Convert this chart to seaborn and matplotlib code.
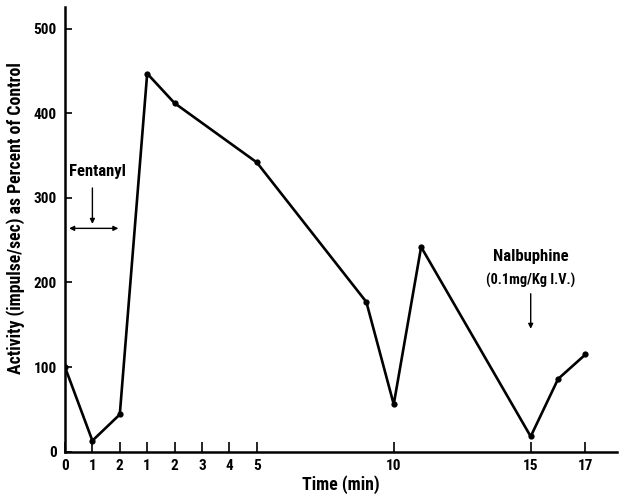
import matplotlib
matplotlib.use("Agg")
import matplotlib.pyplot as plt
import seaborn as sns
import pandas as pd
from matplotlib import font_manager

# ---- data ----
time_pos = [0, 1, 2, 3, 4, 7, 11, 12, 13, 17, 18, 19]
activity = [100, 13, 44, 447, 412, 342, 177, 56, 242, 18, 86, 115]
tick_pos = [0, 1, 2, 3, 4, 5, 6, 7, 12, 17, 19]
tick_labels = ['0', '1', '2', '1', '2', '3', '4', '5', '10', '15', '17']
y_ticks = [0, 100, 200, 300, 400, 500]

sns.set_style("ticks")
names = {f.name for f in font_manager.fontManager.ttflist}
fam = [f for f in ['Roboto Condensed', 'Roboto', 'DejaVu Sans'] if f in names]
plt.rcParams['font.family'] = fam
plt.rcParams['font.weight'] = 'bold'
plt.rcParams['text.color'] = 'black'
plt.rcParams['axes.labelcolor'] = 'black'
plt.rcParams['xtick.color'] = 'black'
plt.rcParams['ytick.color'] = 'black'
plt.rcParams['axes.edgecolor'] = 'black'

fig = plt.figure(figsize=(6.19, 4.97), dpi=100)
ax = fig.add_axes([65 / 619, (497 - 451.7) / 497, 552 / 619, (451.7 - 6.7) / 497])

df = pd.DataFrame({'t': time_pos, 'a': activity})
sns.lineplot(data=df, x='t', y='a', sort=False, ax=ax, color='black',
             linewidth=1.9, marker='o', markersize=4.5, markeredgewidth=0)

ax.set_xlim(0, 20.15)
ax.set_ylim(0, 526)
ax.set_xticks(tick_pos)
ax.set_xticklabels(tick_labels)
ax.set_yticks(y_ticks)
ax.tick_params(axis='x', direction='in', length=7, width=1.2, labelsize=11, pad=5)
ax.tick_params(axis='y', direction='in', length=5, width=1.2, labelsize=11, pad=6)
for lab in ax.get_xticklabels() + ax.get_yticklabels():
    lab.set_fontweight('bold')
ax.set_xlabel('Time (min)', fontsize=12.8, fontweight='bold', labelpad=2)
ax.set_ylabel('Activity (impulse/sec) as Percent of Control', fontsize=12.8,
              fontweight='bold')
ax.yaxis.set_label_coords(-0.072, 0.526)
for s in ['top', 'right']:
    ax.spines[s].set_visible(False)
for s in ['left', 'bottom']:
    ax.spines[s].set_linewidth(1.8)

# Fentanyl annotation
ax.text(1.2, 331, 'Fentanyl', ha='center', va='center', fontsize=12, fontweight='bold')
ax.annotate('', xy=(1.0, 266), xytext=(1.0, 315),
            arrowprops=dict(arrowstyle='-|>', color='black', lw=1, mutation_scale=7))
ax.annotate('', xy=(0.05, 264), xytext=(2.05, 264),
            arrowprops=dict(arrowstyle='<|-|>', color='black', lw=1, mutation_scale=7))

# Nalbuphine annotation
ax.text(17.0, 231, 'Nalbuphine', ha='center', va='center', fontsize=12, fontweight='bold')
ax.text(17.0, 202, '(0.1mg/Kg I.V.)', ha='center', va='center', fontsize=10.4, fontweight='bold')
ax.annotate('', xy=(17.0, 142), xytext=(17.0, 190),
            arrowprops=dict(arrowstyle='-|>', color='black', lw=1, mutation_scale=7))

fig.savefig('out.png', dpi=100)
